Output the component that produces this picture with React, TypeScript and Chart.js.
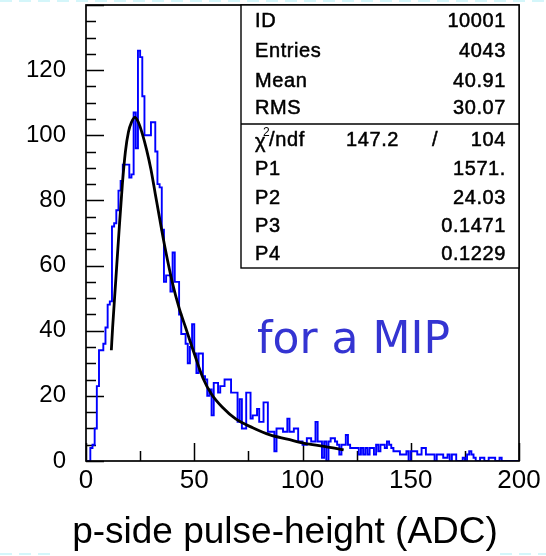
import React, { useEffect, useRef } from 'react';
import { Chart, registerables } from 'chart.js';

Chart.register(...registerables);

// Histogram: 200 bins of width 1 ADC from 0 to 200 (counts per bin)
const binCounts = [
  0, 0, 4, 5, 10, 23, 34, 34, 36, 41,
  48, 49, 72, 73, 77, 83, 86, 91, 91, 91,
  87, 88, 107, 96, 126, 124, 112, 100, 100, 100,
  104, 104, 95, 85, 84, 71, 55, 57, 57, 52,
  64, 55, 55, 45, 39, 39, 36, 30, 35, 42,
  33, 27, 33, 33, 26, 25, 20, 22, 14, 24,
  24, 21, 23, 23, 25, 25, 25, 21, 21, 21,
  12, 19, 10, 10, 21, 21, 13, 14, 14, 16,
  12, 12, 18, 18, 9, 9, 9, 3, 10, 10,
  10, 9, 9, 13, 9, 9, 10, 10, 6, 6,
  5, 5, 7, 7, 6, 6, 12, 6, 6, 1,
  6, 0, 6, 7, 7, 6, 5, 2, 5, 5,
  8, 5, 4, 4, 4, 4, 2, 4, 2, 4,
  2, 4, 4, 2, 5, 3, 5, 5, 4, 6,
  5, 4, 3, 3, 3, 2, 2, 2, 3, 0,
  3, 3, 3, 2, 2, 4, 4, 2, 2, 2,
  2, 0, 2, 2, 2, 1, 1, 2, 0, 2,
  2, 0, 0, 0, 1, 0, 2, 3, 2, 1,
  0, 0, 1, 1, 0, 0, 1, 1, 1, 0,
  0, 1, 0, 0, 0, 0, 0, 0, 0, 0,
];
const binWidth = 1;
const binStart = 0;

// Fit curve
const fitX = [11.7, 12.3, 13.7, 15.3, 16.8, 18.2, 19.6, 21, 22.6, 24.2, 26, 28, 30, 32, 34, 36.5, 40, 43, 46, 50, 54, 58, 63, 69, 77, 85, 93, 101, 110, 119];
const fitY = [34, 41, 55, 71, 85, 95, 101, 104, 105.5, 104, 100.5, 95.5, 89.5, 82, 74.5, 65.5, 54.5, 47, 41, 33, 25.5, 20.5, 16.5, 13, 10.2, 8, 6.7, 5.4, 4.5, 3.4];

// Axes
const xMajorTicks = [0, 50, 100, 150, 200];
const xMinorTicks = [25, 75, 125, 175];
const xTickLabels = ['0', '50', '100', '150', '200'];
const yMajorTicks = [0, 20, 40, 60, 80, 100, 120, 140];
const yMinorTicks = [5, 10, 15, 25, 30, 35, 45, 50, 55, 65, 70, 75, 85, 90, 95, 105, 110, 115, 125, 130, 135];
const yTickLabels = ['0', '20', '40', '60', '80', '100', '120'];
const xTitle = 'p-side pulse-height (ADC)';

// Stats box
const statNames = ['ID', 'Entries', 'Mean', 'RMS'];
const statValues = ['10001', '4043', '40.91', '30.07'];
const chi2Value = '147.2';
const ndfValue = '104';
const parNames = ['P1', 'P2', 'P3', 'P4'];
const parValues = ['1571.', '24.03', '0.1471', '0.1229'];
const annotation = 'for a MIP';

const FONT = "'Liberation Sans', Arial, Helvetica, sans-serif";

function boldText(ctx: CanvasRenderingContext2D, t: string, x: number, y: number) {
  ctx.fillText(t, x, y);
  ctx.strokeText(t, x, y);
}

const framePlugin = {
  id: 'pawFrame',
  beforeDatasetsDraw(chart: any) {
    const { ctx, chartArea: a, scales } = chart;
    const x = scales.x;
    const y = scales.y;
    ctx.save();
    ctx.strokeStyle = '#000';
    ctx.lineWidth = 1.5;
    ctx.beginPath();
    for (const v of xMajorTicks) {
      const px = Math.round(x.getPixelForValue(v)) + 0.5;
      ctx.moveTo(px, a.bottom);
      ctx.lineTo(px, a.bottom - 18);
    }
    for (const v of xMinorTicks) {
      const px = Math.round(x.getPixelForValue(v)) + 0.5;
      ctx.moveTo(px, a.bottom);
      ctx.lineTo(px, a.bottom - 10);
    }
    for (const v of yMajorTicks) {
      const py = Math.round(y.getPixelForValue(v)) + 0.5;
      ctx.moveTo(a.left, py);
      ctx.lineTo(a.left + 18, py);
    }
    for (const v of yMinorTicks) {
      const py = Math.round(y.getPixelForValue(v)) + 0.5;
      ctx.moveTo(a.left, py);
      ctx.lineTo(a.left + 10, py);
    }
    ctx.stroke();
    ctx.restore();
  },
  afterDatasetsDraw(chart: any) {
    const { ctx, chartArea: a } = chart;
    ctx.save();
    // frame
    ctx.strokeStyle = '#000';
    ctx.lineWidth = 1.7;
    ctx.strokeRect(a.left, a.top, a.right - a.left, a.bottom - a.top);

    // stats box
    const bw = 278;
    const bx = a.right - bw;
    const by = a.top;
    const bh = 263;
    ctx.fillStyle = '#fff';
    ctx.fillRect(bx, by, bw, bh);
    ctx.lineWidth = 1.4;
    ctx.strokeRect(bx, by, bw, bh);
    ctx.beginPath();
    ctx.moveTo(bx, by + 119);
    ctx.lineTo(bx + bw, by + 119);
    ctx.stroke();

    ctx.fillStyle = '#000';
    ctx.lineWidth = 0.5;
    ctx.font = `20px ${FONT}`;
    (ctx as any).letterSpacing = '0.6px';
    ctx.textBaseline = 'middle';
    const lx = bx + 14;
    const rx = bx + bw - 13;
    const topRows = [16, 46, 76, 103];
    statNames.forEach((n, i) => {
      ctx.textAlign = 'left';
      boldText(ctx, n, lx, by + topRows[i]);
      ctx.textAlign = 'right';
      boldText(ctx, statValues[i], rx, by + topRows[i]);
    });
    // chi2 row
    const cy = by + 135;
    ctx.textAlign = 'left';
    boldText(ctx, '\u03c7', lx, cy + 2);
    const chiW = ctx.measureText('\u03c7').width;
    ctx.font = `12px ${FONT}`;
    ctx.fillText('2', lx + chiW - 3, cy - 7);
    ctx.font = `20px ${FONT}`;
    boldText(ctx, '/ndf', lx + chiW + 3, cy);
    boldText(ctx, chi2Value, bx + 105, cy);
    boldText(ctx, '/', bx + 191, cy);
    ctx.textAlign = 'right';
    boldText(ctx, ndfValue, rx, cy);
    const parRows = [164, 193, 221, 249];
    parNames.forEach((n, i) => {
      ctx.textAlign = 'left';
      boldText(ctx, n, lx, by + parRows[i]);
      ctx.textAlign = 'right';
      boldText(ctx, parValues[i], rx, by + parRows[i]);
    });
    (ctx as any).letterSpacing = '0px';

    // annotation
    ctx.fillStyle = '#3434d2';
    ctx.font = `44px 'DejaVu Sans', sans-serif`;
    ctx.textAlign = 'left';
    ctx.textBaseline = 'alphabetic';
    ctx.fillText(annotation, a.left + 171, a.top + 348);

    // x axis title
    ctx.fillStyle = '#000';
    ctx.font = `37px ${FONT}`;
    ctx.textAlign = 'center';
    ctx.textBaseline = 'middle';
    ctx.fillText(xTitle, 285, 533);

    // slide decoration at the page edges
    ctx.strokeStyle = '#d4f6fa';
    ctx.lineWidth = 2;
    ctx.setLineDash([12, 7]);
    ctx.beginPath();
    ctx.moveTo(0, 1);
    ctx.lineTo(546, 1);
    ctx.moveTo(0, 554);
    ctx.lineTo(52, 554);
    ctx.moveTo(500, 554);
    ctx.lineTo(546, 554);
    ctx.stroke();
    ctx.restore();
  },
};

export default function App() {
  const canvasRef = useRef<HTMLCanvasElement | null>(null);

  useEffect(() => {
    const canvas = canvasRef.current;
    if (!canvas) return;

    const histPoints = binCounts.map((c, i) => ({ x: binStart + i * binWidth, y: c }));
    histPoints.push({ x: binStart + binCounts.length * binWidth, y: 0 });
    const fitPoints = fitX.map((xv, i) => ({ x: xv, y: fitY[i] }));

    const chart = new Chart(canvas, {
      type: 'line',
      data: {
        datasets: [
          {
            label: 'fit',
            data: fitPoints,
            borderColor: '#000',
            borderWidth: 2.8,
            pointRadius: 0,
            fill: false,
            cubicInterpolationMode: 'monotone',
            order: 0,
          } as any,
          {
            label: 'hist',
            data: histPoints,
            borderColor: '#0000ff',
            borderWidth: 1.9,
            pointRadius: 0,
            fill: false,
            stepped: 'before',
            order: 1,
          } as any,
        ],
      },
      options: {
        responsive: false,
        animation: false,
        devicePixelRatio: 1,
        layout: { padding: { left: 0, right: 27, top: 5, bottom: 0 } },
        plugins: {
          legend: { display: false },
          tooltip: { enabled: false },
        },
        scales: {
          x: {
            type: 'linear',
            min: 0,
            max: 200,
            border: { display: false },
            grid: { display: false, drawTicks: false },
            ticks: {
              stepSize: 50,
              padding: 4,
              autoSkip: false,
              maxRotation: 0,
              color: '#000',
              font: { family: FONT, size: 26 },
              callback: (v: any) => {
                const i = xMajorTicks.indexOf(Number(v));
                return i >= 0 ? xTickLabels[i] : '';
              },
            },
            title: { display: false },
            afterFit: (s: any) => {
              s.height = 95;
              s.paddingLeft = 0;
              s.paddingRight = 0;
            },
          },
          y: {
            type: 'linear',
            min: 0,
            max: 140,
            border: { display: false },
            grid: { display: false, drawTicks: false },
            ticks: {
              stepSize: 20,
              padding: 20,
              autoSkip: false,
              color: '#000',
              font: { family: FONT, size: 24 },
              callback: (v: any) => {
                const i = yMajorTicks.indexOf(Number(v));
                return i >= 0 && i < yTickLabels.length ? yTickLabels[i] : '';
              },
            },
            afterFit: (s: any) => {
              s.width = 86;
              s.paddingTop = 0;
              s.paddingBottom = 0;
            },
          },
        },
      } as any,
      plugins: [framePlugin],
    });

    return () => {
      chart.destroy();
    };
  }, []);

  return (
    <div style={{ position: 'fixed', left: 0, top: 0, width: 546, height: 556, background: '#fff' }}>
      <canvas ref={canvasRef} width={546} height={556} style={{ display: 'block', width: 546, height: 556 }} />
    </div>
  );
}
